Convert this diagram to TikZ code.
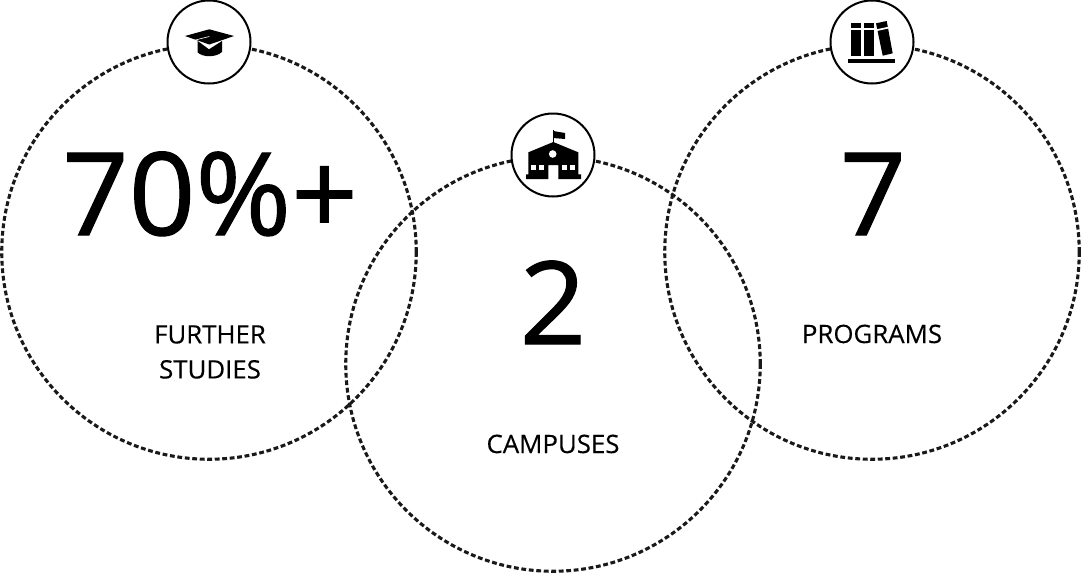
\documentclass[tikz,border=0pt]{standalone}
\usepackage{fontspec}
\setmainfont{Open Sans}
\newfontfamily\labelfont[FakeStretch=1.02,FakeBold=0.3]{Open Sans}
\newfontfamily\numfont[FakeBold=1.0,FakeStretch=1.012]{Open Sans}
\tikzset{
  x=1pt,y=-1pt,
  bigring/.style={circle,draw=black!90,line width=3.1pt,dash pattern=on 4.8pt off 2.7pt,minimum size=414.5pt,inner sep=0pt},
  iconring/.style={circle,draw=black,fill=white,line width=2pt,minimum size=83pt,inner sep=0pt},
  bignum/.style={inner sep=0pt,anchor=base,text=black,font=\fontsize{115}{115}\selectfont\numfont},
  caption/.style={inner sep=0pt,align=center,text=black,font=\fontsize{25.3}{35}\selectfont\labelfont},
  glyph/.style={fill=black,draw=none},
  cut/.style={fill=white,draw=none}
}
\begin{document}
\begin{tikzpicture}
\useasboundingbox (0,0) rectangle (1081,574);
\node[bigring] (left) at (209,252) {};
\node[bigring] (right) at (872,252) {};
\node[bigring] (mid) at (553,364) {};
\node[iconring] (capring) at (209,42) {};
\node[iconring] (schoolring) at (553,155) {};
\node[iconring] (bookring) at (872,42) {};
% cap
\fill[glyph] (197.7,41) -- (197.7,52.5) .. controls (203,57.5) and (216,57.5) .. (222,52) -- (222,41) -- (209,49.3) -- cycle;
\fill[glyph] (185,36) -- (209.3,29.3) -- (234,36) -- (209.3,44.5) -- cycle;
\draw[white,line width=.6pt] (209.3,36.5) -- (193.5,40.5) -- (192.5,51);
% school
\draw[black,line width=1.3pt] (553.3,130) -- (553.3,143);
\fill[glyph] (553.3,131) -- (565,133) -- (565,139) -- (553.3,138) -- cycle;
\fill[glyph] (553.3,142) -- (578.3,152.3) -- (578.3,174.3) -- (581,174.3) -- (581,179) -- (558.3,179) -- (558.3,165) -- (548.3,165) -- (548.3,179) -- (526,179) -- (526,174.3) -- (528.3,174.3) -- (528.3,152.3) -- cycle;
\fill[cut] (552.7,154) circle (3.8);
\fill[cut] (530.7,165) rectangle (535.7,170);
\fill[cut] (539,165) rectangle (544,170);
\fill[cut] (561.7,165) rectangle (566.7,170);
\fill[cut] (570,165) rectangle (575,170);
% books
\fill[glyph] (851,22.7) rectangle (861,55.7);
\fill[glyph] (864,22.7) rectangle (874,55.7);
\fill[glyph] (876,23.3) -- (886.7,21) -- (892.7,53.3) -- (882.7,55.7) -- cycle;
\fill[cut] (851,28.3) rectangle (861,30.2);
\fill[cut] (864,28.3) rectangle (874,30.2);
\fill[cut] (877,29.2) -- (887.7,26.9) -- (888,28.6) -- (877.3,30.9) -- cycle;
\fill[glyph] (847.7,59.3) rectangle (895.3,62.7);
% text
\node[bignum] (pct) at (210,235) {70\%+};
\node[bignum] (seven) at (873,235) {7};
\node[bignum] (two) at (553,344) {2};
\node[caption] (further) at (210,352) {FURTHER\\STUDIES};
\node[caption,anchor=base] (programs) at (872,343) {PROGRAMS};
\node[caption,anchor=base] (campuses) at (553,453) {CAMPUSES};
\end{tikzpicture}
\end{document}
